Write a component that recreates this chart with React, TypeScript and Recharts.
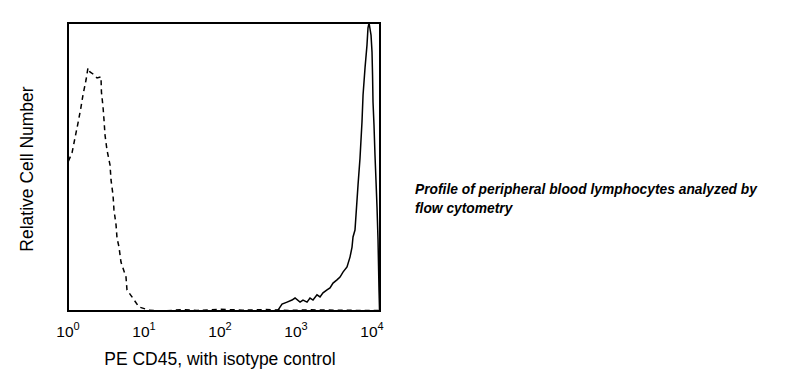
import { Line, LineChart, ReferenceArea, XAxis, YAxis } from "recharts";

// x values are log10(fluorescence), y values are relative cell number (0-100)
const DECADE_TICKS = [0, 1, 2, 3, 4];

const isotypeLog = [
  0.005, 0.053, 0.092, 0.132, 0.171, 0.197, 0.237, 0.263, 0.289, 0.329, 0.382,
  0.434, 0.44, 0.461, 0.474, 0.487, 0.513, 0.553, 0.566, 0.592, 0.605, 0.632,
  0.645, 0.671, 0.697, 0.763, 0.776, 0.842, 0.934, 1.066, 1.263, 1.5, 1.7, 2.0,
  2.3, 2.6, 2.9, 3.2, 3.5, 3.8, 4.105,
];
const isotypeCount = [
  52, 54.9, 60.1, 65.3, 70.8, 75, 80.2, 84.4, 83, 82.3, 80.9, 81.3, 76, 70.8,
  66.3, 61.1, 55.9, 50.7, 45.5, 40.3, 35.1, 29.9, 25.3, 22.2, 17, 11.8, 7.3, 4.9,
  1.4, 0.3, 0, 0.5, 0.2, 0.6, 0.3, 0.5, 0.2, 0.4, 0.3, 0.2, 0.2,
];

const cd45Log = [
  0, 2.7, 2.763, 2.816, 2.882, 2.947, 2.987, 3.053, 3.092, 3.145, 3.184, 3.224,
  3.276, 3.316, 3.355, 3.408, 3.447, 3.487, 3.539, 3.579, 3.618, 3.671, 3.711,
  3.737, 3.75, 3.776, 3.816, 3.842, 3.868, 3.882, 3.908, 3.934, 3.947, 3.961,
  3.987, 4.0, 4.007, 4.013, 4.026, 4.039, 4.053, 4.066, 4.079, 4.092, 4.099,
];
const cd45Count = [
  0, 0, 0.3, 2.4, 3.1, 3.8, 4.5, 3.1, 3.8, 3.1, 4.5, 3.8, 5.6, 4.9, 6.3, 7.3, 8,
  9.7, 10.8, 11.8, 13.5, 15.3, 18.8, 22.2, 25.7, 28.1, 43.8, 53.1, 65.6, 75,
  84.4, 92.4, 98.3, 100, 95.8, 89.9, 81.9, 72.6, 64.6, 54.2, 44.8, 35.8, 24.7,
  7.3, 0,
];

const isotypeData = isotypeLog.map((x, i) => ({ x, y: isotypeCount[i] }));
const cd45Data = cd45Log.map((x, i) => ({ x, y: cd45Count[i] }));

const FONT = "'Liberation Sans', Arial, sans-serif";

function DecadeTick({ x, y, payload }: any) {
  return (
    <text
      x={x}
      y={y + 18}
      textAnchor="middle"
      fontFamily={FONT}
      fontSize={15.5}
      fill="#000"
    >
      <tspan>10</tspan>
      <tspan fontSize={11} dy={-7}>
        {payload.value}
      </tspan>
    </text>
  );
}

export default function App() {
  return (
    <div
      style={{
        position: "absolute",
        left: 0,
        top: 0,
        width: 798,
        height: 387,
        background: "#fff",
      }}
    >
      <LineChart
        width={400}
        height={387}
        margin={{ top: 23, right: 20, bottom: 46, left: 0 }}
      >
        <XAxis
          type="number"
          dataKey="x"
          domain={[0, 4.105]}
          ticks={DECADE_TICKS}
          allowDataOverflow
          axisLine={false}
          tickLine={false}
          height={30}
          tick={<DecadeTick />}
          label={{
            content: () => (
              <text
                x={220}
                y={365}
                textAnchor="middle"
                fontFamily={FONT}
                fontSize={17.5}
                fill="#000"
              >
                PE CD45, with isotype control
              </text>
            ),
          }}
        />
        <YAxis
          type="number"
          dataKey="y"
          domain={[0, 100]}
          allowDataOverflow
          width={68}
          tick={false}
          axisLine={false}
          tickLine={false}
          label={{
            content: () => (
              <text
                x={33}
                y={169}
                textAnchor="middle"
                transform="rotate(-90 33 169)"
                fontFamily={FONT}
                fontSize={17.5}
                fill="#000"
              >
                Relative Cell Number
              </text>
            ),
          }}
        />
        <ReferenceArea
          x1={0}
          x2={4.105}
          y1={0}
          y2={100}
          fill="none"
          stroke="#000"
          strokeWidth={2}
          ifOverflow="visible"
        />
        <Line
          data={isotypeData}
          dataKey="y"
          type="linear"
          stroke="#000"
          strokeWidth={1.5}
          strokeDasharray="5 4"
          dot={false}
          isAnimationActive={false}
        />
        <Line
          data={cd45Data}
          dataKey="y"
          type="linear"
          stroke="#000"
          strokeWidth={1.5}
          dot={false}
          isAnimationActive={false}
        />
      </LineChart>
      <div
        style={{
          position: "absolute",
          left: 415,
          top: 180,
          fontFamily: FONT,
          fontSize: 13.8,
          fontWeight: "bold",
          fontStyle: "italic",
          lineHeight: "19px",
          color: "#000",
        }}
      >
        Profile of peripheral blood lymphocytes analyzed by
        <br />
        flow cytometry
      </div>
    </div>
  );
}
